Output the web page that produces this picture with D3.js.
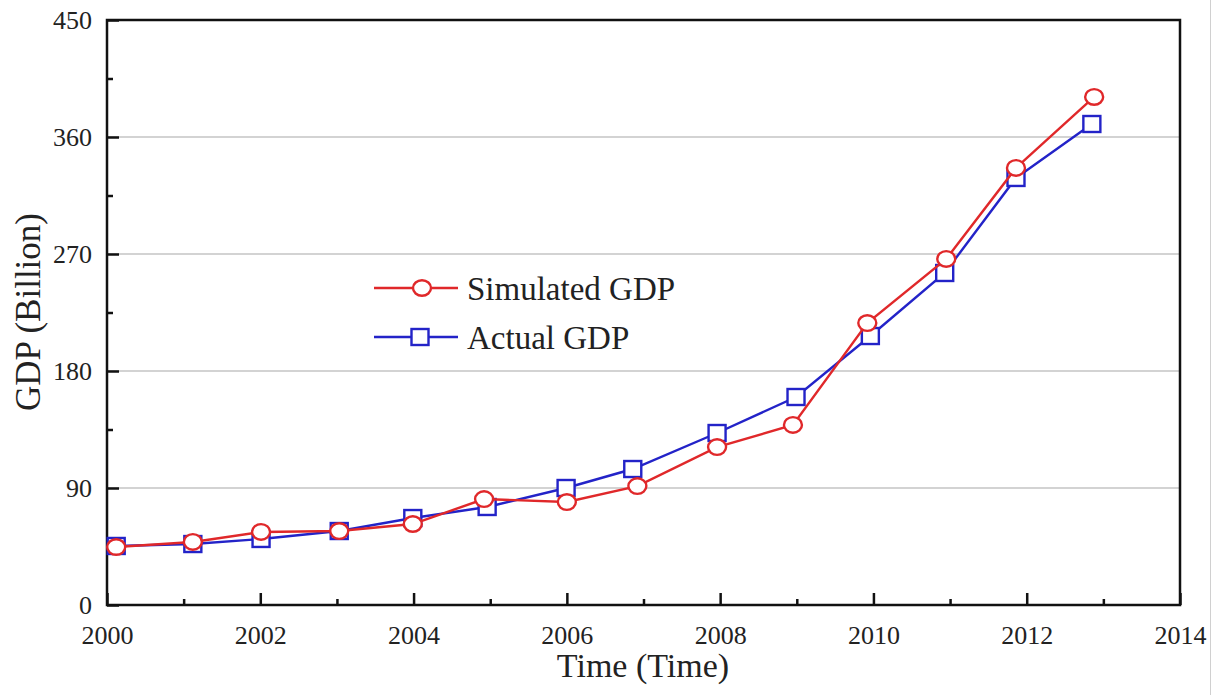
<!DOCTYPE html>
<html>
<head>
<meta charset="utf-8">
<script src="https://cdn.jsdelivr.net/npm/d3@7"></script>
<style>
  html, body { margin: 0; padding: 0; background: #fff; }
  svg { display: block; }
  text { font-family: "Liberation Serif", "Times New Roman", serif; fill: #222; }
</style>
</head>
<body>
<svg id="chart" width="1220" height="695"></svg>
<script>
// ---- data ----
const simYears = [2000.12, 2001.12, 2002.01, 2003.03, 2003.99, 2004.92, 2006.00, 2006.92, 2007.96, 2008.95, 2009.92, 2010.95, 2011.86, 2012.88];
const simGDP   = [44.6, 48.5, 56.2, 56.9, 62.3, 81.5, 79.2, 91.5, 121.5, 138.5, 216.9, 266.2, 336.2, 390.8];
const actYears = [2000.12, 2001.12, 2002.01, 2003.03, 2003.99, 2004.96, 2005.99, 2006.86, 2007.96, 2008.99, 2009.96, 2010.93, 2011.86, 2012.85];
const actGDP   = [45.4, 46.9, 50.8, 56.9, 66.9, 75.4, 90.0, 104.6, 132.3, 160.0, 206.9, 255.4, 328.5, 370.0];
const xMajorTicks = [2000, 2002, 2004, 2006, 2008, 2010, 2012, 2014];
const xMinorTicks = [2001, 2003, 2005, 2007, 2009, 2011, 2013];
const yMajorTicks = [0, 90, 180, 270, 360, 450];
const yMinorTicks = [45, 135, 225, 315, 405];
const seriesNames = ["Simulated GDP", "Actual GDP"];
const xTitle = "Time (Time)";
const yTitle = "GDP (Billion)";

const RED = "#e0282a", BLUE = "#2323c8";

const svg = d3.select("#chart");
const L = 107, R = 1180, T = 20, B = 605;
const x = d3.scaleLinear().domain([2000, 2014]).range([L, R]);
const y = d3.scaleLinear().domain([0, 450]).range([B, T]);

// screenshot border line at right
svg.append("line").attr("x1", 1210.5).attr("x2", 1210.5).attr("y1", 0).attr("y2", 695)
  .attr("stroke", "#d0d0d0").attr("stroke-width", 1);

// gridlines
svg.append("g").selectAll("line").data(yMajorTicks.filter(d => d > 0 && d < 450)).join("line")
  .attr("x1", L).attr("x2", R).attr("y1", d => y(d)).attr("y2", d => y(d))
  .attr("stroke", "#c4c4c4").attr("stroke-width", 1.5);

// axes
const fontSize = 26;
const xMinor = svg.append("g").attr("transform", `translate(0,${B})`)
  .call(d3.axisBottom(x).tickValues(xMinorTicks).tickSize(-6).tickFormat(""));
const xMajor = svg.append("g").attr("transform", `translate(0,${B})`)
  .call(d3.axisBottom(x).tickValues(xMajorTicks).tickSize(-12).tickPadding(28).tickFormat(d3.format("d")));
const yMinor = svg.append("g").attr("transform", `translate(${L},0)`)
  .call(d3.axisLeft(y).tickValues(yMinorTicks).tickSize(-6).tickFormat(""));
const yMajor = svg.append("g").attr("transform", `translate(${L},0)`)
  .call(d3.axisLeft(y).tickValues(yMajorTicks).tickSize(-12).tickPadding(28).tickFormat(d3.format("d")));

[xMinor, xMajor, yMinor, yMajor].forEach(g => {
  g.select(".domain").remove();
  g.selectAll(".tick line").attr("stroke", "#111").attr("stroke-width", 2.5);
  g.selectAll(".tick text").attr("font-size", fontSize).attr("font-family", "Liberation Serif, serif").attr("fill", "#3a3a3a");
});
xMajor.selectAll(".tick text").attr("dy", "0.35em").attr("y", 30);
yMajor.selectAll(".tick text").attr("x", -15);

// frame
svg.append("rect").attr("x", L).attr("y", T).attr("width", R - L).attr("height", B - T)
  .attr("fill", "none").attr("stroke", "#111").attr("stroke-width", 2.5);

// series
const line = d3.line().x(d => x(d[0])).y(d => y(d[1]));
const act = actYears.map((d, i) => [d, actGDP[i]]);
const sim = simYears.map((d, i) => [d, simGDP[i]]);

function drawSquare(g, px, py) {
  g.append("rect").attr("x", px - 8.5).attr("y", py - 8).attr("width", 17).attr("height", 16)
    .attr("fill", "#fff").attr("stroke", BLUE).attr("stroke-width", 2.4);
}
function drawCircle(g, px, py) {
  g.append("ellipse").attr("cx", px).attr("cy", py).attr("rx", 9).attr("ry", 7.8)
    .attr("fill", "#fff").attr("stroke", RED).attr("stroke-width", 2.4);
}

const gA = svg.append("g");
gA.append("path").datum(act).attr("d", line).attr("fill", "none").attr("stroke", BLUE).attr("stroke-width", 2.4);
const gS = svg.append("g");
gS.append("path").datum(sim).attr("d", line).attr("fill", "none").attr("stroke", RED).attr("stroke-width", 2.4);
act.forEach(d => drawSquare(gA, x(d[0]), y(d[1])));
sim.forEach(d => drawCircle(gS, x(d[0]), y(d[1])));

// legend
const lg = svg.append("g");
const legendRows = [
  { name: seriesNames[0], color: RED, yy: 288, kind: "circle" },
  { name: seriesNames[1], color: BLUE, yy: 337, kind: "square" }
];
legendRows.forEach(r => {
  lg.append("line").attr("x1", 374).attr("x2", 458).attr("y1", r.yy).attr("y2", r.yy)
    .attr("stroke", r.color).attr("stroke-width", 2.4);
  if (r.kind === "circle") drawCircle(lg, 422, r.yy);
  else drawSquare(lg, 420, r.yy);
  lg.append("text").attr("x", 467).attr("y", r.yy).attr("dy", "0.35em")
    .attr("font-size", 33).attr("fill", "#222").text(r.name);
});

// titles
svg.append("text").attr("x", 643).attr("y", 665).attr("dy", "0.35em").attr("text-anchor", "middle")
  .attr("font-size", 34).text(xTitle);
svg.append("text").attr("transform", "translate(28,312) rotate(-90)").attr("dy", "0.35em")
  .attr("text-anchor", "middle").attr("font-size", 35).text(yTitle);
</script>
</body>
</html>
